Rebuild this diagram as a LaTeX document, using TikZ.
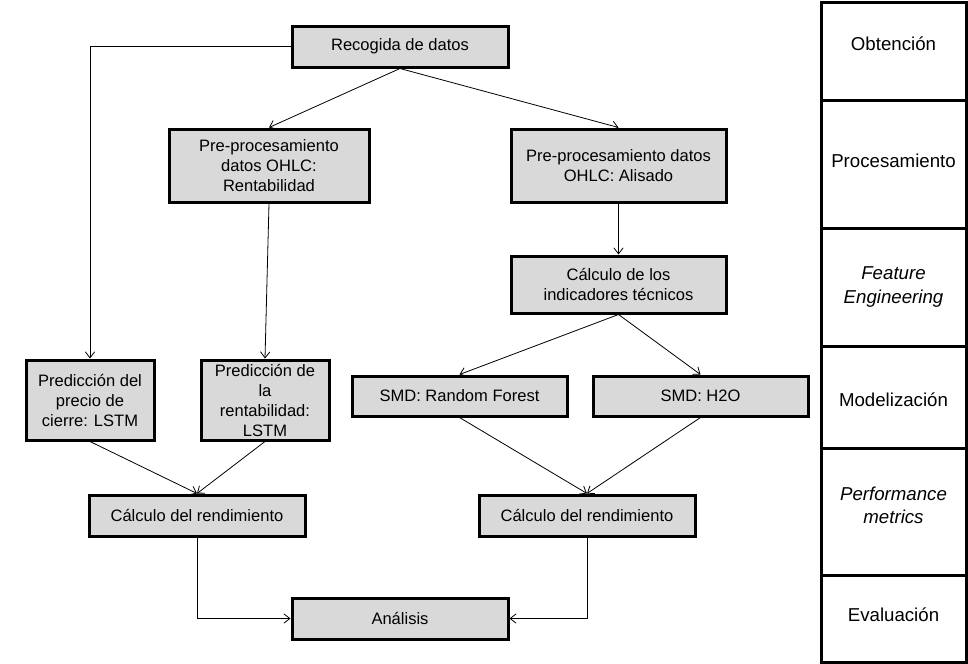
\documentclass[tikz,border=0pt]{standalone}
\usepackage{fontspec}
\setmainfont{Liberation Sans}
\usetikzlibrary{positioning, arrows.meta}
\definecolor{boxgray}{HTML}{D9D9D9}

\tikzset{
  stepbox/.style={draw=black, line width=2.25pt, fill=boxgray, align=center,
                  font=\fontsize{12.4}{15}\selectfont, inner sep=1pt},
  flow/.style={-{Straight Barb[length=4.5pt,width=7pt]}, line width=0.6pt},
  phasecell/.style={draw=black, line width=2.25pt},
  phasetext/.style={align=center, font=\fontsize{14}{17.3}\selectfont}
}

\begin{document}
\begin{tikzpicture}[x=0.75pt, y=-0.75pt]
  \useasboundingbox (0,0) rectangle (968,664);

  % flow boxes
  \node[stepbox, minimum width=162pt, minimum height=30.75pt] (rec) at (400,46.5)
       {Recogida de datos};
  \node[stepbox, minimum width=150pt, minimum height=54.75pt] (rent) at (269,165.5)
       {Pre-procesamiento\\datos OHLC:\\Rentabilidad};
  \node[stepbox, minimum width=161.25pt, minimum height=54.75pt] (alis) at (618.5,165.5)
       {Pre-procesamiento datos\\OHLC: Alisado};
  \node[stepbox, minimum width=161.25pt, minimum height=42.75pt] (ind) at (618.5,284.5)
       {Cálculo de los\\indicadores técnicos};
  \node[stepbox, minimum width=161.25pt, minimum height=30pt] (rf) at (459.5,396)
       {SMD: Random Forest};
  \node[stepbox, minimum width=161.25pt, minimum height=30pt] (hto) at (700.5,396)
       {SMD: H2O};
  \node[stepbox, minimum width=96pt, minimum height=60pt] (prec) at (90,400)
       {Predicción del\\precio de\\cierre: LSTM};
  \node[stepbox, minimum width=96pt, minimum height=60pt, inner sep=0pt] (prent) at (265,400)
       {Predicción de\\la\\rentabilidad:\\LSTM};
  \node[stepbox, minimum width=162pt, minimum height=30.75pt] (rendL) at (197,515.5)
       {Cálculo del rendimiento};
  \node[stepbox, minimum width=162pt, minimum height=30.75pt] (rendR) at (587,515.5)
       {Cálculo del rendimiento};
  \node[stepbox, minimum width=162pt, minimum height=30.75pt] (anal) at (400,618.5)
       {Análisis};

  % connectors
  \draw[flow] (rec.west) -| (prec.north);
  \draw[flow] (rec.south) -- (rent.north);
  \draw[flow] (rec.south) -- (alis.north);
  \draw[flow] (rent.south) -- (prent.north);
  \draw[flow] (alis.south) -- (ind.north);
  \draw[flow] (ind.south) -- (rf.north);
  \draw[flow] (ind.south) -- (hto.north);
  \draw[flow] (prec.south) -- (rendL.north);
  \draw[flow] (prent.south) -- (rendL.north);
  \draw[flow] (rf.south) -- (rendR.north);
  \draw[flow] (hto.south) -- (rendR.north);
  \draw[flow] (rendL.south) |- (anal.west);
  \draw[flow] (rendR.south) |- (anal.east);

  % phase column
  \foreach \top/\bot/\ty/\name/\txt in {
      2/100/44/obt/{Obtención},
      100/228/161/pro/{Procesamiento},
      228/346/287/fea/{\itshape Feature\\\itshape Engineering},
      346/448/400/mod/{Modelización},
      448/575/505/per/{\itshape Performance\\\itshape metrics},
      575/662/615/eva/{Evaluación}} {
    \draw[phasecell] (821,\top) rectangle (966,\bot);
    \node[phasetext] (\name) at (893.5,\ty) {\txt};
  }
\end{tikzpicture}
\end{document}
